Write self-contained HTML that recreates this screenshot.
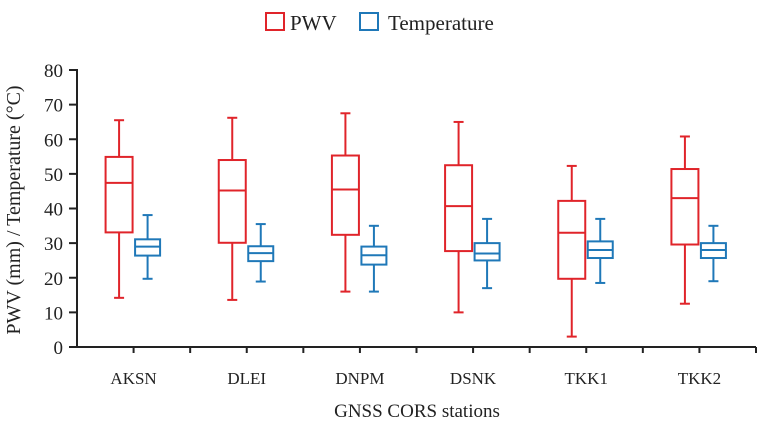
<!DOCTYPE html>
<html><head><meta charset="utf-8"><style>
body{margin:0;background:#fff}
svg{display:block;font-family:"Liberation Serif",serif}
</style></head><body>
<svg id="chart" width="762" height="426" viewBox="0 0 762 426">
<g id="legend">
  <g>
    <rect x="266" y="13" width="18" height="17" fill="none" stroke="#e0242a" stroke-width="2"/>
    <text x="290" y="30" font-size="21" fill="#222">PWV</text>
  </g>
  <g>
    <rect x="360" y="13" width="18" height="17" fill="none" stroke="#1f78b8" stroke-width="2"/>
    <text x="388" y="30" font-size="21" fill="#222">Temperature</text>
  </g>
</g>
<text x="20" y="210" font-size="20" fill="#222" text-anchor="middle" transform="rotate(-90 20 210)">PWV (mm) / Temperature (°C)</text>
<text x="417" y="417" font-size="19" fill="#222" text-anchor="middle">GNSS CORS stations</text>
<g id="axes"></g>
<g id="marks"></g>
</svg>
<script>
const categories=["AKSN","DLEI","DNPM","DSNK","TKK1","TKK2"];
const pwvMin=[14.2,13.6,16,10,3,12.5];
const pwvQ1=[33.1,30.1,32.4,27.7,19.7,29.6];
const pwvMed=[47.4,45.2,45.5,40.7,33,43];
const pwvQ3=[54.9,54.0,55.3,52.5,42.2,51.4];
const pwvMax=[65.5,66.2,67.5,65,52.3,60.8];
const tMin=[19.7,18.9,16,17,18.5,19];
const tQ1=[26.4,24.8,23.8,25,25.7,25.7];
const tMed=[29.0,27.1,26.5,27,28,28];
const tQ3=[31.1,29.1,29,30,30.5,30];
const tMax=[38.1,35.5,35,37,37,35];
const yTicks=[0,10,20,30,40,50,60,70,80];

const NS="http://www.w3.org/2000/svg";
const x0=77,x1=756,yB=347,yT=70;
const step=(x1-x0)/12;
const y=v=>yB-(v/80)*(yB-yT);
const xc=i=>x0+step*(2*i+1);
const axes=document.getElementById('axes'),marks=document.getElementById('marks');
function mk(tag,attrs,parent){const e=document.createElementNS(NS,tag);for(const k in attrs)e.setAttribute(k,attrs[k]);parent.appendChild(e);return e;}
let e=mk('line',{x1:x0,y1:yT-1,x2:x0,y2:yB,stroke:'#222','stroke-width':2},axes);


e=mk('line',{x1:x0-1,y1:yB,x2:x1,y2:yB,stroke:'#222','stroke-width':2},axes);


yTicks.forEach(t=>{
  mk('line',{x1:x0-8,y1:y(t),x2:x0,y2:y(t),stroke:'#222','stroke-width':2},axes);
  const tx=mk('text',{x:x0-14,y:y(t)+7,'font-size':19,'text-anchor':'end',fill:'#222'},axes);
  tx.textContent=t;
  
  
});
for(let k=1;k<=12;k++)mk('line',{x1:x0+step*k,y1:yB,x2:x0+step*k,y2:yB+6,stroke:'#222','stroke-width':2},axes);
function box(cx,w,mn,q1,md,q3,mx,col,name){
  const g=mk('g',{},marks);
  
  
  const s={stroke:col,'stroke-width':2,fill:'none'};
  mk('line',Object.assign({x1:cx,y1:y(mx),x2:cx,y2:y(q3)},s),g);
  mk('line',Object.assign({x1:cx,y1:y(q1),x2:cx,y2:y(mn)},s),g);
  mk('line',Object.assign({x1:cx-5,y1:y(mx),x2:cx+5,y2:y(mx)},s),g);
  mk('line',Object.assign({x1:cx-5,y1:y(mn),x2:cx+5,y2:y(mn)},s),g);
  mk('rect',Object.assign({x:cx-w/2,y:y(q3),width:w,height:y(q1)-y(q3)},s),g);
  mk('line',Object.assign({x1:cx-w/2,y1:y(md),x2:cx+w/2,y2:y(md)},s),g);
}
categories.forEach((c,i)=>{
  const cx=xc(i);
  box(cx-14.5,27,pwvMin[i],pwvQ1[i],pwvMed[i],pwvQ3[i],pwvMax[i],'#e0242a','box-pwv-'+c.toLowerCase());
  box(cx+14,25,tMin[i],tQ1[i],tMed[i],tQ3[i],tMax[i],'#1f78b8','box-temp-'+c.toLowerCase());
  const t=mk('text',{x:cx,y:384,'font-size':17,'text-anchor':'middle',fill:'#222'},axes);
  t.textContent=c;
  
  
});
</script>
</body></html>
